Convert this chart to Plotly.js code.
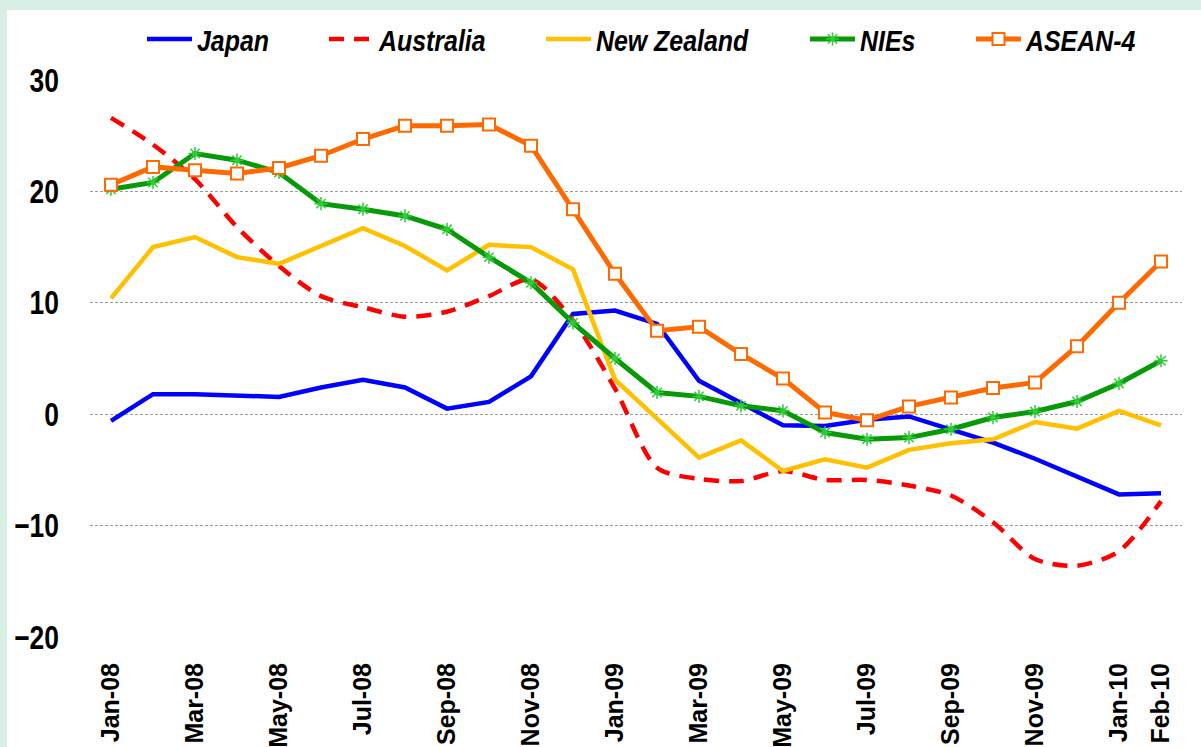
<!DOCTYPE html>
<html><head><meta charset="utf-8">
<script src="https://cdn.plot.ly/plotly-3.0.1.min.js"></script>
<style>
html,body{margin:0;padding:0;background:#d9efe6;width:1201px;height:747px;overflow:hidden;}
#chart{position:absolute;left:7px;top:10px;width:1194px;height:737px;background:#fff;}
</style></head><body><div id="chart"></div>
<script>
const months = ["Jan-08","Feb-08","Mar-08","Apr-08","May-08","Jun-08","Jul-08","Aug-08","Sep-08","Oct-08","Nov-08","Dec-08",
  "Jan-09","Feb-09","Mar-09","Apr-09","May-09","Jun-09","Jul-09","Aug-09","Sep-09","Oct-09","Nov-09","Dec-09","Jan-10","Feb-10"];
const tickLabels = ["Jan-08","Mar-08","May-08","Jul-08","Sep-08","Nov-08","Jan-09","Mar-09","May-09","Jul-09","Sep-09","Nov-09","Jan-10","Feb-10"];
const boundaryTicks = [-0.5,1.5,3.5,5.5,7.5,9.5,11.5,13.5,15.5,17.5,19.5,21.5,23.5,25.5];
const yTicks = [-20,-10,0,10,20,30];

const japan      = [-0.6,1.8,1.8,1.65,1.55,2.4,3.1,2.4,0.5,1.1,3.4,9.0,9.3,8.1,3.0,1.0,-1.0,-1.05,-0.5,-0.2,-1.35,-2.55,-4.0,-5.55,-7.2,-7.1];
const australia  = [26.6,24.2,21.1,16.8,13.3,10.6,9.6,8.75,9.2,10.6,12.1,8.4,2.3,-4.8,-5.8,-6.0,-5.1,-5.9,-5.9,-6.4,-7.3,-9.7,-13.0,-13.6,-12.3,-7.8];
const newZealand = [10.4,15.0,15.9,14.1,13.5,15.1,16.7,15.1,12.9,15.2,15.0,13.0,3.1,-0.4,-3.9,-2.35,-5.1,-4.05,-4.8,-3.2,-2.6,-2.25,-0.7,-1.3,0.3,-1.0];
const nies       = [20.2,20.8,23.4,22.8,21.7,18.9,18.4,17.8,16.6,14.1,11.8,8.2,5.0,1.95,1.6,0.75,0.3,-1.65,-2.25,-2.1,-1.35,-0.3,0.24,1.14,2.76,4.8];
const asean4     = [20.6,22.2,21.9,21.6,22.1,23.2,24.7,25.9,25.9,26.0,24.1,18.4,12.6,7.5,7.85,5.4,3.2,0.15,-0.55,0.7,1.5,2.35,2.85,6.1,10.0,13.7];

const LEGFONT = {family:"'Liberation Sans',Arial,sans-serif", size:30, color:'#000', weight:'bold', style:'italic'};

const traces = [
  {name:'Japan', x:months, y:japan, type:'scatter', mode:'lines', line:{color:'#0000ff', width:4.5}, legend:'legend'},
  {name:'Australia', x:months, y:australia, type:'scatter', mode:'lines', line:{color:'#ff0000', width:4.5, dash:'15px,10px', shape:'spline', smoothing:0.8}, legend:'legend2'},
  {name:'New Zealand', x:months, y:newZealand, type:'scatter', mode:'lines', line:{color:'#ffc000', width:4.5}, legend:'legend3'},
  {name:'NIEs', x:months, y:nies, type:'scatter', mode:'lines+markers', line:{color:'#079a07', width:5},
   marker:{symbol:'asterisk-open', size:11, color:'#2fcc3a', line:{color:'#2fcc3a', width:1.5}}, legend:'legend4'},
  {name:'ASEAN-4', x:months, y:asean4, type:'scatter', mode:'lines+markers', line:{color:'#ff6a00', width:5},
   marker:{symbol:'square', size:12, color:'#ffffff', line:{color:'#ff6a00', width:2}}, legend:'legend5'}
];

function leg(xpx){
  return {x:(xpx-7)/1194, xref:'container', y:1-29/737, yref:'container', xanchor:'left', yanchor:'middle',
    orientation:'h', bgcolor:'rgba(0,0,0,0)', borderwidth:0, font:LEGFONT, itemwidth:45};
}

const layout = {
  width:1194, height:737,
  margin:{l:83, r:19, t:70, b:110.3},
  paper_bgcolor:'#ffffff', plot_bgcolor:'#ffffff',
  showlegend:true,
  legend:leg(142), legend2:leg(324), legend3:leg(541), legend4:leg(805), legend5:leg(971),
  xaxis:{type:'category', range:[-0.5,25.5], tickmode:'array', tickvals:tickLabels, ticktext:tickLabels,
    tickangle:-90, ticks:'', showgrid:false, zeroline:false, showline:false, ticklabelstandoff:20,
    tickfont:{family:"'Liberation Sans',Arial,sans-serif", size:25, color:'#000', weight:'bold'}},
  xaxis2:{overlaying:'x', anchor:'free', position:0.4, side:'bottom', range:[-0.5,25.5], tickmode:'array',
    tickvals:boundaryTicks, ticks:'outside', ticklen:9, tickwidth:2, tickcolor:'#a6a6a6',
    showline:true, linecolor:'#a6a6a6', linewidth:2, showticklabels:false, showgrid:false, zeroline:false},
  yaxis:{range:[-20,30], tickmode:'array', tickvals:yTicks, ticks:'', showline:false, zeroline:false,
    showgrid:true, gridcolor:'#9a9a9a', gridwidth:1, griddash:'3px,2px', ticklabelstandoff:30,
    tickfont:{family:"'Liberation Sans',Arial,sans-serif", size:33, color:'#000', weight:'bold'}}
};

// condense the texts that use a narrow typeface in the reference
function squeeze(sel, f){
  document.querySelectorAll(sel).forEach(function(t){
    var txt = t.textContent;
    if (t.getAttribute('data-sq') === txt && t.hasAttribute('textLength')) return;
    t.removeAttribute('textLength');
    var w = t.getComputedTextLength();
    if (!w) return;
    t.setAttribute('textLength', (w*f).toFixed(1));
    t.setAttribute('lengthAdjust', 'spacingAndGlyphs');
    t.setAttribute('data-sq', txt);
  });
}
function squeezeAll(){
  squeeze('#chart .ytick text', 0.8);
  squeeze('#chart g.scrollbox g.traces text', 0.83);
}

Plotly.newPlot('chart', traces, layout, {displayModeBar:false, staticPlot:true}).then(function(gd){
  squeezeAll();
  gd.on('plotly_afterplot', squeezeAll);
  [30, 120, 400, 1000, 2000].forEach(function(ms){ setTimeout(squeezeAll, ms); });
  requestAnimationFrame(squeezeAll);
});
</script></body></html>
